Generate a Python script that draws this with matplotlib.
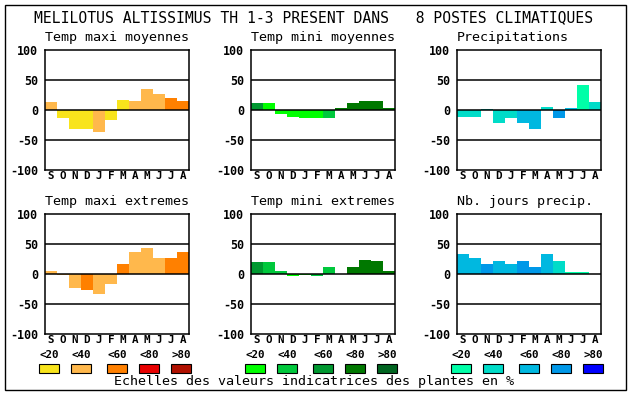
import matplotlib
matplotlib.use('Agg')
import matplotlib.pyplot as plt
from matplotlib.patches import Rectangle

W, H = 630, 394
FONT = 'DejaVu Sans Mono'

months = ['S', 'O', 'N', 'D', 'J', 'F', 'M', 'A', 'M', 'J', 'J', 'A']

# values (% scale -100..100) and colour class (0:<20 .. 4:>80) for each month
tmax_moy = [13, -14, -31, -31, -37, -16, 17, 15, 35, 27, 20, 15]
tmax_moy_cls = [1, 0, 0, 0, 1, 0, 0, 1, 1, 1, 2, 2]
tmin_moy = [12, 12, -6, -11, -13, -13, -13, 3, 12, 15, 15, 3]
tmin_moy_cls = [2, 0, 0, 0, 0, 0, 1, 3, 3, 3, 3, 3]
precip = [-11, -11, 2, -21, -13, -21, -31, 5, -13, 3, 42, 13]
precip_cls = [1, 1, 1, 1, 1, 2, 2, 1, 3, 2, 0, 1]
tmax_ext = [5, -2, -24, -27, -34, -17, 16, 37, 44, 26, 27, 36]
tmax_ext_cls = [1, 1, 1, 2, 1, 1, 2, 1, 1, 1, 2, 2]
tmin_ext = [20, 20, 5, -4, -2, -4, 11, 0, 11, 24, 22, 5]
tmin_ext_cls = [2, 1, 1, 0, 0, 1, 1, 1, 3, 3, 3, 3]
jours = [34, 27, 16, 21, 17, 21, 11, 34, 21, 4, 4, 0]
jours_cls = [2, 2, 3, 2, 2, 3, 3, 2, 1, 0, 0, 0]

yticks = [100, 50, 0, -50, -100]
scale_labels = ['<20', '<40', '<60', '<80', '>80']

warm = ['#f8e41c', '#ffb84c', '#ff8000', '#e80000', '#b01000']
green = ['#00ff00', '#00c83c', '#009830', '#007800', '#006420']
blue = ['#00ffa8', '#00dcc8', '#00b8e0', '#0098e8', '#0000ff']

panels = [
    ('Temp maxi moyennes', tmax_moy, tmax_moy_cls, warm, 45, 50),
    ('Temp mini moyennes', tmin_moy, tmin_moy_cls, green, 251, 50),
    ('Precipitations', precip, precip_cls, blue, 457, 50),
    ('Temp maxi extremes', tmax_ext, tmax_ext_cls, warm, 45, 214),
    ('Temp mini extremes', tmin_ext, tmin_ext_cls, green, 251, 214),
    ('Nb. jours precip.', jours, jours_cls, blue, 457, 214),
]


def fx(px):
    return px / W


def fy(py):
    return 1 - py / H


fig = plt.figure(figsize=(W / 100, H / 100), dpi=100)
fig.patch.set_facecolor('white')

# outer frame
fig.patches.append(Rectangle((fx(5), fy(390)), fx(621), 385 / H, transform=fig.transFigure,
                             fill=False, edgecolor='black', linewidth=1.0))

fig.text(fx(314), fy(18), 'MELILOTUS ALTISSIMUS TH 1-3 PRESENT DANS   8 POSTES CLIMATIQUES',
         family=FONT, fontsize=10.6, ha='center', va='center')

for title, vals, cls, pal, left, top in panels:
    ax = fig.add_axes([fx(left), fy(top + 120), fx(144), 120 / H])
    x = list(range(len(months)))
    ax.bar(x, vals, width=1.0, color=[pal[c] for c in cls], linewidth=0, zorder=2)
    for yv in (50, 0, -50):
        ax.axhline(yv, color='black', linewidth=1.1, zorder=3)
    ax.set_xlim(-0.5, 11.5)
    ax.set_ylim(-100, 100)
    ax.set_yticks(yticks)
    ax.set_yticklabels([str(v) for v in yticks], family=FONT, fontsize=8.4, fontweight='bold')
    ax.set_xticks(x)
    ax.set_xticklabels(months, family=FONT, fontsize=7.8, fontweight='bold')
    ax.tick_params(axis='x', length=0, pad=1)
    ax.tick_params(axis='y', length=0, pad=5)
    for s in ax.spines.values():
        s.set_linewidth(1.1)
    fig.text(fx(left), fy(top - 12), title, family=FONT, fontsize=9.6, ha='left', va='center')

# colour scales below the bottom row
offsets = [-6, 26, 62, 94, 126]
for left, pal in [(45, warm), (251, green), (457, blue)]:
    for off, col, lab in zip(offsets, pal, scale_labels):
        x0 = left + off
        fig.patches.append(Rectangle((fx(x0), fy(373)), fx(20), 9 / H, transform=fig.transFigure,
                                     facecolor=col, edgecolor='black', linewidth=0.8))
        fig.text(fx(x0 + 10), fy(355), lab, family=FONT, fontsize=7.8, fontweight='bold',
                 ha='center', va='center')

fig.text(fx(314), fy(382), 'Echelles des valeurs indicatrices des plantes en %',
         family=FONT, fontsize=9.6, ha='center', va='center')

plt.savefig('out.png', dpi=100)
